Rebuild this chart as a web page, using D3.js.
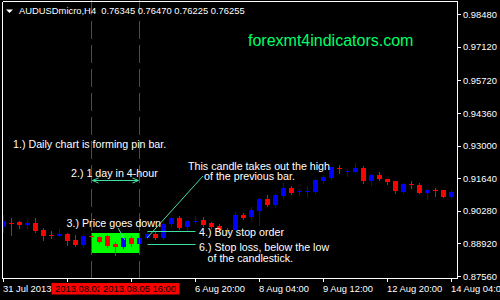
<!DOCTYPE html>
<html><head><meta charset="utf-8">
<script src="https://cdn.jsdelivr.net/npm/d3@7"></script>
<style>html,body{margin:0;padding:0;background:#000;overflow:hidden}svg{display:block}</style>
</head><body>
<svg id="c" width="500" height="300"></svg>
<script>
// ---------- data ----------
const symbolTitle = "AUDUSDmicro,H4";
const titleQuote = ["0.76345", "0.76470", "0.76225", "0.76255"];
const watermark = "forexmt4indicators.com";

const opens  = [0.89605,0.89792,0.89826,0.89688,0.89759,0.89479,0.89258,0.89242,0.89300,0.89062,
                0.88854,0.89217,0.89200,0.89229,0.88895,0.88758,0.89158,0.88895,0.89133,0.89313,
                0.89133,0.89717,0.89968,0.89617,0.89843,0.89897,0.89759,0.89659,0.89479,0.89479,
                0.90105,0.90009,0.90285,0.90760,0.90523,0.90911,0.91219,0.91065,0.91065,0.91078,
                0.91524,0.91637,0.92067,0.91900,0.91912,0.92054,0.91524,0.91774,0.91595,0.91524,
                0.91078,0.91399,0.91357,0.91036,0.91161,0.91149,0.90869];
const highs  = [0.90105,0.89980,0.89868,0.89897,0.89980,0.89563,0.89438,0.89521,0.89354,0.89271,
                0.89271,0.89229,0.89229,0.89271,0.88991,0.89146,0.89229,0.89200,0.89409,0.89384,
                0.89826,0.90034,0.90076,0.89897,0.90064,0.90009,0.89826,0.89717,0.89563,0.90231,
                0.90189,0.90439,0.90802,0.90940,0.90982,0.91428,0.91315,0.91178,0.91315,0.91595,
                0.91774,0.92121,0.92192,0.92025,0.92263,0.92150,0.91816,0.91912,0.91595,0.91524,
                0.91428,0.91524,0.91453,0.91178,0.91219,0.91169,0.91149];
const lows   = [0.89396,0.89271,0.89563,0.89563,0.89409,0.89062,0.89146,0.89229,0.88854,0.88812,
                0.88783,0.89146,0.88937,0.88783,0.88436,0.88728,0.88824,0.88854,0.89104,0.89104,
                0.89104,0.89659,0.89521,0.89479,0.89759,0.89646,0.89575,0.89409,0.89354,0.89438,
                0.89918,0.89938,0.89688,0.90481,0.90452,0.90827,0.90969,0.90940,0.90869,0.91036,
                0.91453,0.91608,0.91870,0.91745,0.91912,0.91428,0.91357,0.91566,0.91386,0.91011,
                0.91011,0.91219,0.91011,0.90760,0.90911,0.90836,0.90827];
const closes = [0.89855,0.89751,0.89688,0.89772,0.89450,0.89242,0.89217,0.89313,0.89033,0.88854,
                0.89229,0.89175,0.88991,0.88812,0.88758,0.89133,0.88895,0.89133,0.89313,0.89133,
                0.89717,0.89968,0.89575,0.89855,0.89868,0.89688,0.89617,0.89479,0.89438,0.90105,
                0.89968,0.90314,0.90760,0.90523,0.90940,0.91219,0.91011,0.91094,0.91094,0.91566,
                0.91704,0.92096,0.92037,0.91929,0.92054,0.91524,0.91774,0.91595,0.91482,0.91119,
                0.91399,0.91370,0.91036,0.91149,0.91136,0.90856,0.91053];

const yTickValues = [0.98480, 0.97120, 0.95720, 0.94360, 0.93000, 0.91640, 0.90280, 0.88920, 0.87560];
const xTickIndex  = [0, 8, 16, 24, 32, 40, 48, 56];
const xTickLabels = ["31 Jul 2013", "", "", "6 Aug 20:00", "8 Aug 04:00", "9 Aug 12:00", "12 Aug 20:00", "14 Aug 04:00"];
const vLineIndex  = [11, 17];
const vLineLabels = ["2013.08.02 20:00", "2013.08.05 16:00"];

// zone / order levels (prices)
const zonePrices = [0.89354, 0.88520];
const buyStopPrice = 0.89438;
const stopLossPrice = 0.88895;

// ---------- drawing ----------
const svg = d3.select("#c");
const FONT = "'Liberation Sans', Arial, sans-serif";
const W = 500, H = 300;
const plot = {l: 2.5, r: 457.5, t: 1.5, b: 278.5};

svg.append("rect").attr("width", W).attr("height", H).attr("fill", "#000");

const x = d3.scaleLinear().domain([0, 56]).range([3, 451]);
const y = d3.scaleLinear().domain([0.87560, 0.98480]).range([276, 14.3]);
const cx = i => x(i) + 0.5;

svg.append("clipPath").attr("id", "pc").append("rect")
  .attr("x", 3).attr("y", 2).attr("width", 454).attr("height", 276);

const g = svg.append("g").attr("clip-path", "url(#pc)");

// green zone
g.append("rect")
  .attr("x", cx(vLineIndex[0])).attr("width", cx(vLineIndex[1]) - cx(vLineIndex[0]))
  .attr("y", Math.round(y(zonePrices[0]))).attr("height", Math.round(y(zonePrices[1])) - Math.round(y(zonePrices[0])))
  .attr("fill", "#00ff00");

// candles
const idx = d3.range(opens.length);
const cg = g.append("g").attr("shape-rendering", "crispEdges");
cg.selectAll("line.w").data(idx).join("line")
  .attr("x1", i => cx(i)).attr("x2", i => cx(i))
  .attr("y1", i => Math.round(y(highs[i]))).attr("y2", i => Math.round(y(lows[i])) + 1)
  .attr("stroke", i => closes[i] >= opens[i] ? "#0000ff" : "#ff0000").attr("stroke-width", 1);
cg.selectAll("rect.b").data(idx).join("rect")
  .attr("x", i => x(i) - 2).attr("width", 5)
  .attr("y", i => Math.round(y(Math.max(opens[i], closes[i]))))
  .attr("height", i => Math.max(1, Math.round(y(Math.min(opens[i], closes[i]))) - Math.round(y(Math.max(opens[i], closes[i])))))
  .attr("fill", i => closes[i] >= opens[i] ? "#0000ff" : "#ff0000");

// red dashed vertical lines
svg.selectAll("line.v").data(vLineIndex).join("line")
  .attr("x1", d => cx(d)).attr("x2", d => cx(d)).attr("y1", 0).attr("y2", 278)
  .attr("stroke", "#ff0000").attr("stroke-dasharray", "18,6").attr("stroke-dashoffset", 3);

// annotation lines
const AC = "#40e0a0";
const ann = svg.append("g").attr("stroke", AC).attr("stroke-width", 1).attr("fill", "none");
ann.append("line").attr("x1", cx(18)).attr("x2", cx(24))
  .attr("y1", Math.round(y(buyStopPrice)) + 0.5).attr("y2", Math.round(y(buyStopPrice)) + 0.5);
ann.append("line").attr("x1", cx(18)).attr("x2", cx(24))
  .attr("y1", Math.round(y(stopLossPrice)) + 0.5).attr("y2", Math.round(y(stopLossPrice)) + 0.5);
ann.append("line").attr("x1", 147).attr("y1", 238).attr("x2", 203).attr("y2", 176);
ann.append("line").attr("x1", 118).attr("y1", 228).attr("x2", 125).attr("y2", 240);
// one day arrow
const ay = 180.5, ax1 = cx(vLineIndex[0]) + 1, ax2 = cx(vLineIndex[1]) - 1;
ann.append("line").attr("x1", ax1).attr("x2", ax2).attr("y1", ay).attr("y2", ay);
ann.append("path").attr("d", `M${ax1+6},${ay-2.5}L${ax1},${ay}L${ax1+6},${ay+2.5}M${ax2-6},${ay-2.5}L${ax2},${ay}L${ax2-6},${ay+2.5}`);

// borders
const bd = svg.append("g").attr("stroke", "#fff").attr("stroke-width", 1).attr("shape-rendering", "crispEdges");
bd.append("line").attr("x1", plot.l).attr("x2", plot.l).attr("y1", plot.t).attr("y2", plot.b);
bd.append("line").attr("x1", plot.r).attr("x2", plot.r).attr("y1", plot.t).attr("y2", plot.b);
bd.append("line").attr("x1", plot.l).attr("x2", plot.r).attr("y1", plot.b).attr("y2", plot.b);
bd.append("line").attr("x1", plot.l).attr("x2", plot.r).attr("y1", plot.t).attr("y2", plot.t);

// axes
const yAxis = d3.axisRight(y).tickValues(yTickValues).tickFormat(d3.format(".5f")).tickSize(4).tickPadding(2);
const ya = svg.append("g").attr("transform", "translate(457,0)").call(yAxis);
const xAxis = d3.axisBottom(x).tickValues(xTickIndex).tickFormat((d, i) => xTickLabels[i]).tickSize(4).tickPadding(3);
const xa = svg.append("g").attr("transform", "translate(0,278)").call(xAxis);
[ya, xa].forEach(a => {
  a.select(".domain").remove();
  a.selectAll("line").attr("stroke", "#fff").attr("shape-rendering", "crispEdges");
  a.selectAll("text").attr("fill", "#fff").style("font-family", FONT).style("font-size", "9.4px");
});
xa.selectAll("text").attr("text-anchor", "start").attr("dx", "-0.5");

// vertical line labels
vLineIndex.forEach((d, i) => {
  svg.append("rect").attr("x", cx(d) - 40).attr("y", 283).attr("width", 80).attr("height", 11.5).attr("fill", "#ff0000");
  svg.append("text").attr("x", cx(d)).attr("y", 292).attr("text-anchor", "middle")
    .attr("fill", "#000").style("font-family", FONT).style("font-size", "9.4px").text(vLineLabels[i]);
});

// title
svg.append("path").attr("d", "M6,9.5L13,9.5L9.5,13Z").attr("fill", "#fff");
svg.append("text").attr("x", 19).attr("y", 13.5).attr("fill", "#fff")
  .style("font-family", FONT).style("font-size", "9.4px").style("white-space", "pre")
  .text(symbolTitle + "  " + titleQuote.join(" "));

// watermark
svg.append("text").attr("x", 248).attr("y", 46).attr("fill", "#00ff66")
  .style("font-family", FONT).style("font-size", "16px").text(watermark);

// annotation texts
const notes = [
  {t: "1.) Daily chart is forming pin bar.", x: 13, y: 147.5},
  {t: "2.) 1 day in 4-hour", x: 71, y: 177.3},
  {t: "This candle takes out the high", x: 188, y: 170},
  {t: "of the previous bar.", x: 204, y: 179.5},
  {t: "3.) Price goes down", x: 66.5, y: 226.7},
  {t: "4.) Buy stop order", x: 199, y: 235.7},
  {t: "6.) Stop loss, below the low", x: 199, y: 251},
  {t: "of the candlestick.", x: 207.5, y: 261.5}
];
svg.selectAll("text.note").data(notes).join("text").attr("class", "note")
  .attr("x", d => d.x).attr("y", d => d.y).attr("fill", "#fff")
  .style("font-family", FONT).style("font-size", "10.7px").text(d => d.t);
</script>
</body></html>
